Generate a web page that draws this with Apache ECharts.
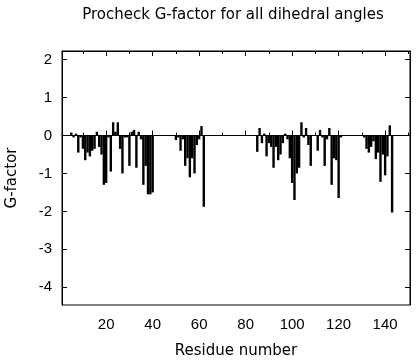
<!DOCTYPE html>
<html>
<head>
<meta charset="utf-8">
<script src="https://cdn.jsdelivr.net/npm/echarts@6/dist/echarts.min.js"></script>
<style>
html,body{margin:0;padding:0;background:#fff;}
#c{width:416px;height:360px;}
</style>
</head>
<body>
<div id="c"></div>
<script>
// Residue numbers and G-factor values
const residues = [
  5,6,7,8,9,10,11,12,13,14,15,16,17,18,19,20,21,22,23,24,25,26,27,28,29,30,31,32,33,34,35,36,37,38,39,40,
  50,51,52,53,54,55,56,57,58,59,60,61,62,
  85,86,87,88,89,90,91,92,93,94,95,96,97,98,99,100,101,102,103,104,105,106,107,108,111,112,113,114,115,116,117,118,119,120,121,
  131,132,133,134,135,136,137,138,139,140,141,142,143
];
const gfactor = [
  0.08,-0.05,0.05,-0.45,-0.05,-0.35,-0.65,-0.45,-0.55,-0.4,-0.35,0.1,-0.3,-0.5,-1.3,-1.25,-0.05,-0.95,0.35,0.1,0.35,-0.35,-1.0,-0.05,-0.05,-0.8,0.1,0.15,-0.85,0.1,-0.1,-1.3,-0.8,-1.55,-1.55,-1.5,
  -0.12,-0.05,-0.4,-0.1,-0.8,-0.6,-1.1,-0.6,-1.0,-0.25,-0.1,0.25,-1.88,
  -0.43,0.2,-0.2,0.05,-0.55,-0.2,-0.3,-0.85,-0.3,-0.65,-0.5,-0.2,0.05,-0.1,-0.6,-1.25,-1.7,-1.0,-0.85,0.35,-0.05,0.2,-0.25,-0.8,-0.4,0.15,-0.05,-0.8,-0.1,0.2,-1.3,-0.6,-0.65,-1.65,-0.05,
  -0.05,-0.35,-0.45,-0.3,-0.15,-0.62,-0.45,-1.22,-0.5,-1.05,-0.55,0.27,-2.03
];
// tick labels
const xTicks = [20,40,60,80,100,120,140];
const xMinorTicks = [10,30,50,70,90,110,130,150];
const yTicks = [-4,-3,-2,-1,0,1,2];

const X_MIN = 1, X_MAX = 150.7, Y_MIN = -4.47, Y_MAX = 2.23;
const FONT = 'Liberation Sans';
const FONT2 = 'DejaVu Sans';

const chart = echarts.init(document.getElementById('c'), null, {renderer:'canvas'});
const data = residues.map((r,i)=>[r, gfactor[i]]);

const baseX = {
  type:'value', min:X_MIN, max:X_MAX,
  splitLine:{show:false}
};
const baseY = {
  type:'value', min:Y_MIN, max:Y_MAX,
  splitLine:{show:false}
};

chart.setOption({
  animation:false,
  backgroundColor:'#fff',
  title:{
    text:'Procheck G-factor for all dihedral angles',
    left:228, top:3, textAlign:'center',
    textStyle:{fontFamily:FONT2, fontSize:15, fontWeight:'normal', color:'#000'}
  },
  grid:{left:62, right:6, top:51, bottom:55, outerBoundsMode:'none', containLabel:false,
        show:true, borderColor:'#000', borderWidth:1, backgroundColor:'transparent'},
  xAxis:[
    Object.assign({}, baseX, {
      position:'bottom',
      name:'Residue number', nameLocation:'middle', nameGap:39,
      nameTextStyle:{fontFamily:FONT2, fontSize:15, color:'#000'},
      axisLine:{show:true, lineStyle:{color:'#000', width:1}},
      axisTick:{show:true, inside:true, length:5, customValues:xTicks, lineStyle:{color:'#000'}},
      axisLabel:{show:true, margin:12, customValues:xTicks, fontFamily:FONT, fontSize:15, color:'#000'}
    }),
    Object.assign({}, baseX, {
      position:'bottom',
      axisLine:{show:false},
      axisTick:{show:true, inside:true, length:3, customValues:xMinorTicks, lineStyle:{color:'#000'}},
      axisLabel:{show:false}
    }),
    Object.assign({}, baseX, {
      position:'top',
      axisLine:{show:true, lineStyle:{color:'#000'}},
      axisTick:{show:true, inside:true, length:5, customValues:xTicks, lineStyle:{color:'#000'}},
      axisLabel:{show:false}
    }),
    Object.assign({}, baseX, {
      position:'top',
      axisLine:{show:false},
      axisTick:{show:true, inside:true, length:3, customValues:xMinorTicks, lineStyle:{color:'#000'}},
      axisLabel:{show:false}
    })
  ],
  yAxis:[
    Object.assign({}, baseY, {
      position:'left',
      name:'G-factor', nameLocation:'middle', nameGap:42, nameRotate:90,
      nameTextStyle:{fontFamily:FONT2, fontSize:15, color:'#000'},
      axisLine:{show:true, lineStyle:{color:'#000'}},
      axisTick:{show:true, inside:true, length:5, customValues:yTicks, lineStyle:{color:'#000'}},
      axisLabel:{show:true, margin:10, customValues:yTicks, fontFamily:FONT, fontSize:15, color:'#000'}
    }),
    Object.assign({}, baseY, {
      position:'right',
      axisLine:{show:true, lineStyle:{color:'#000'}},
      axisTick:{show:true, inside:true, length:5, customValues:yTicks, lineStyle:{color:'#000'}},
      axisLabel:{show:false}
    })
  ],
  series:[{
    type:'bar',
    xAxisIndex:0, yAxisIndex:0,
    data:data,
    barWidth:2.4,
    itemStyle:{color:'#000'},
    silent:true
  }]
});
</script>
</body>
</html>
